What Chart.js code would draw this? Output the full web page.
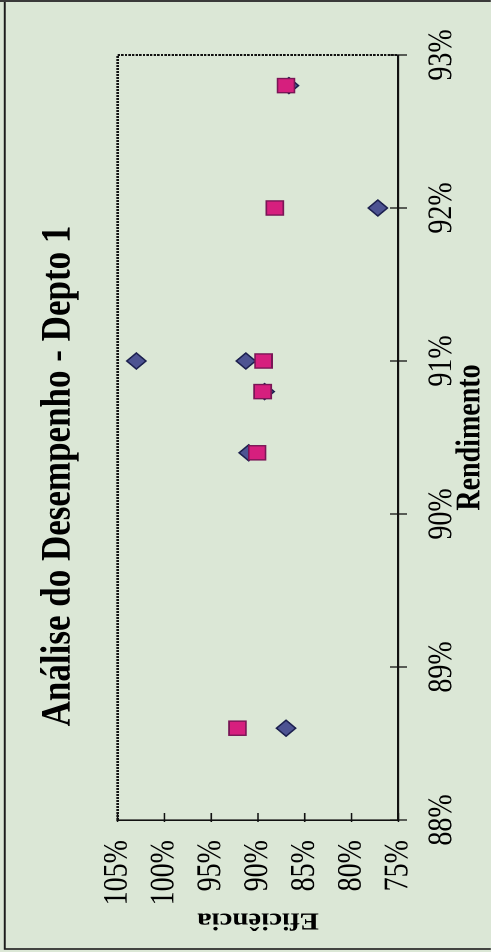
<!DOCTYPE html>
<html lang="pt">
<head>
<meta charset="utf-8">
<title>Análise do Desempenho - Depto 1</title>
<script src="https://cdn.jsdelivr.net/npm/chart.js@4.4.1/dist/chart.umd.min.js"></script>
<style>
  html, body { margin: 0; padding: 0; background: #dbe7d6; overflow: hidden; }
  body { width: 491px; height: 952px; position: relative; }
  /* the chart is laid out landscape, then turned a quarter turn to stand on its side */
  #wrap {
    position: absolute; left: 0; top: 0;
    width: 952px; height: 409px;
    transform-origin: 0 0;
    transform: translate(0, 952px) rotate(-90deg) scale(1, 1.2);
  }
  #graf { display: block; width: 952px; height: 409px; }
</style>
</head>
<body>
<div id="wrap"><canvas id="graf" width="952" height="409"></canvas></div>
<script>
// Rendimento (x) e Eficiência (y), em %
var rendimento1 = [88.6, 90.4, 90.8, 91.0, 91.0, 92.0, 92.8];
var eficiencia1 = [87.0, 91.0, 89.3, 91.3, 103.0, 77.2, 86.7];

var rendimento2 = [88.6, 90.4, 90.8, 91.0, 92.0, 92.8];
var eficiencia2 = [92.2, 90.1, 89.5, 89.4, 88.2, 87.0];

var series = ['Série 1', 'Série 2'];
var titulo = 'Análise do Desempenho - Depto 1';
var tituloX = 'Rendimento';
var tituloY = 'Eficiência';

function pontos(xs, ys) {
    var out = [];
    for (var i = 0; i < xs.length; i++) out.push({ x: xs[i], y: ys[i] });
    return out;
}

var serif = "'Liberation Serif', 'Times New Roman', serif";

// fundo, moldura, borda pontilhada da área e marcas cruzando os eixos
var moldura = {
    id: 'moldura',
    beforeDraw: function (chart) {
        var c = chart.ctx;
        c.save();
        c.fillStyle = '#dbe7d6';
        c.fillRect(0, 0, chart.width, chart.height);
        c.strokeStyle = '#1c1c1c';
        c.lineWidth = 1.6;
        c.strokeRect(3, 4, chart.width - 4, chart.height + 20);
        c.fillStyle = '#3a3a3a';
        c.fillRect(chart.width - 2, 0, 2, chart.height);
        c.restore();
    },
    beforeDatasetsDraw: function (chart) {
        var c = chart.ctx, a = chart.chartArea;
        c.save();
        c.strokeStyle = '#111';
        c.lineWidth = 2;
        c.setLineDash([2, 1]);
        c.beginPath();
        c.moveTo(a.left, a.top);
        c.lineTo(a.right, a.top);
        c.lineTo(a.right, a.bottom);
        c.stroke();
        c.setLineDash([]);
        c.lineWidth = 1.3;
        var sx = chart.scales.x, sy = chart.scales.y;
        sx.ticks.forEach(function (t) {
            var px = sx.getPixelForValue(t.value);
            c.beginPath();
            c.moveTo(px, a.bottom - 7);
            c.lineTo(px, a.bottom + 7);
            c.stroke();
        });
        sy.ticks.forEach(function (t) {
            var py = sy.getPixelForValue(t.value);
            c.beginPath();
            c.moveTo(a.left - 2, py);
            c.lineTo(a.left + 7, py);
            c.stroke();
        });
        c.restore();
    }
};

var ctx = document.getElementById('graf').getContext('2d');

var config = {
    type: 'scatter',
    data: {
        datasets: [
            {
                label: series[0],
                data: pontos(rendimento1, eficiencia1),
                pointStyle: 'rectRot',
                pointRadius: 8,
                backgroundColor: '#4d5392',
                borderColor: '#1b1f4e',
                borderWidth: 1.4,
                order: 1
            },
            {
                label: series[1],
                data: pontos(rendimento2, eficiencia2),
                pointStyle: 'rect',
                pointRadius: 10,
                backgroundColor: '#d61f7e',
                borderColor: '#7a1656',
                borderWidth: 1.4,
                order: 0
            }
        ]
    },
    options: {
        responsive: false,
        maintainAspectRatio: false,
        animation: false,
        devicePixelRatio: 2,
        layout: { padding: 0 },
        plugins: {
            legend: { display: false },
            tooltip: { enabled: false },
            title: {
                display: true,
                text: titulo,
                color: '#000',
                font: { family: serif, size: 35, weight: 'bold', lineHeight: 1.2 },
                padding: { top: 28, bottom: 28 }
            }
        },
        scales: {
            x: {
                type: 'linear',
                min: 88,
                max: 93,
                grid: { display: true, drawOnChartArea: false, drawTicks: false },
                border: { display: true, color: '#111', width: 1.6 },
                ticks: {
                    stepSize: 1,
                    padding: 20,
                    color: '#000',
                    font: { family: serif, size: 28, lineHeight: 1.2 },
                    callback: function (v) { return v + '%'; }
                },
                title: {
                    display: true,
                    text: tituloX,
                    color: '#000',
                    font: { family: serif, size: 28, weight: 'bold', lineHeight: 1.2 },
                    padding: { top: 0, bottom: 0 }
                },
                afterFit: function (s) { s.height = 77; s.paddingRight = 55; }
            },
            y: {
                min: 75,
                max: 105,
                grid: { display: true, drawOnChartArea: false, drawTicks: false },
                border: { display: true, color: '#111', width: 1.6 },
                ticks: {
                    stepSize: 5,
                    padding: 20,
                    color: '#000',
                    font: { family: serif, size: 28, lineHeight: 1.2 },
                    callback: function (v) { return v + '%'; }
                },
                title: {
                    display: true,
                    text: tituloY,
                    color: '#000',
                    font: { family: serif, size: 24, weight: 'bold', lineHeight: 1.2 },
                    padding: { top: 18, bottom: 0 }
                },
                afterFit: function (s) { s.width = 132; }
            }
        }
    },
    plugins: [moldura]
};

var grafico = new Chart(ctx, config);
</script>
</body>
</html>
